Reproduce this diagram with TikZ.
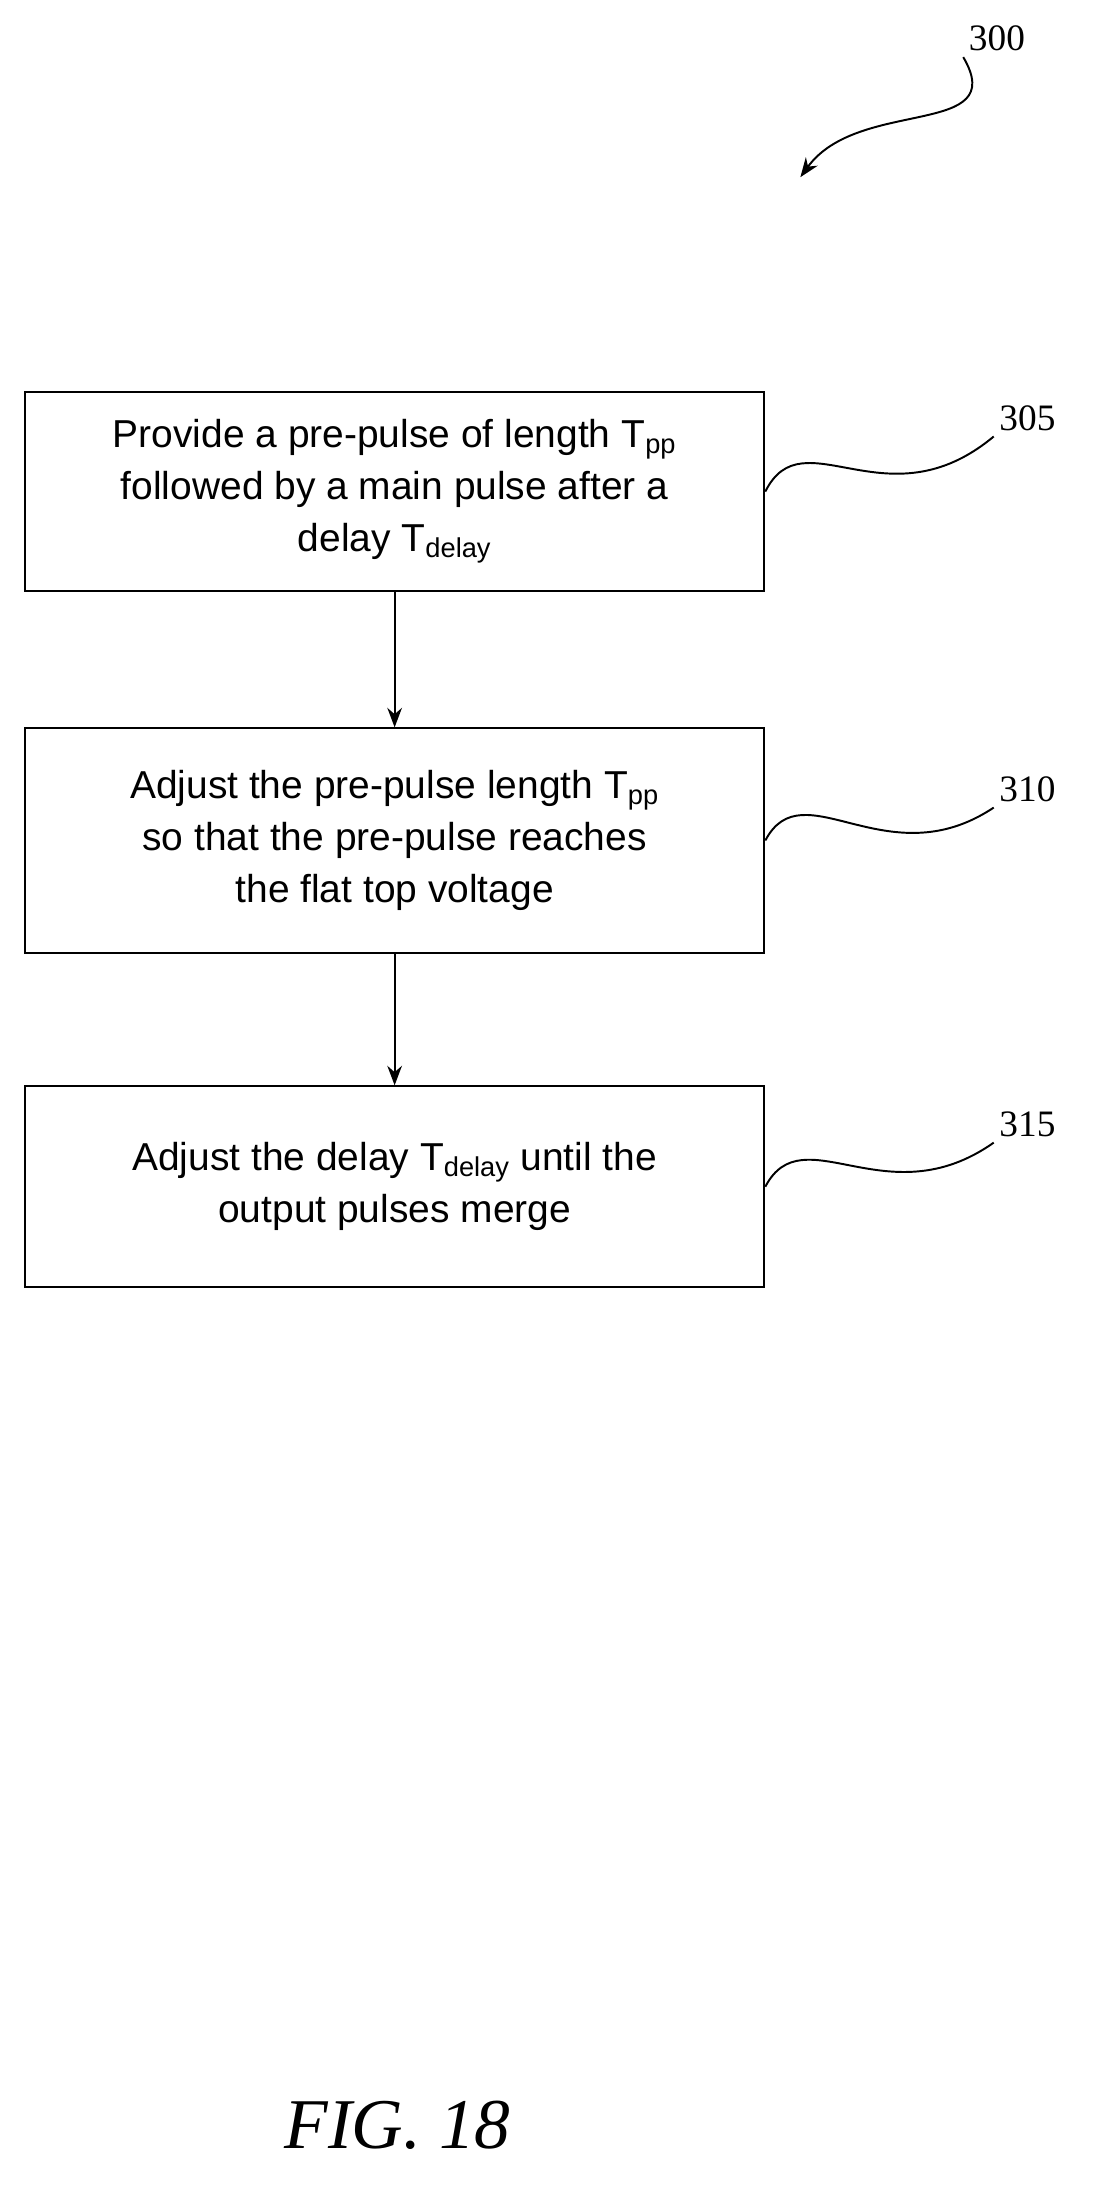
\documentclass[tikz,border=0pt]{standalone}
\usepackage{fontspec}
\setmainfont{Liberation Sans}
\newfontfamily\labelfont{Liberation Serif}
\usetikzlibrary{positioning,arrows.meta}
\begin{document}
\begin{tikzpicture}
[x=0.03cm,y=-0.03cm,
 flowstep/.style={draw,line width=1.2pt,minimum width=16.02cm,align=center,
   font=\fontsize{24}{32}\selectfont,inner sep=0pt},
 ref/.style={font=\labelfont\fontsize{23}{24}\selectfont},
 flow/.style={-{Stealth[length=12pt,width=9pt]},line width=1.2pt},
 wave/.style={line width=1.2pt}]
\useasboundingbox (0,0) rectangle (790,1578);
\node[flowstep,minimum height=4.32cm](s305) at (285,355){Provide a pre-pulse of length T\textsubscript{pp}\\followed by a main pulse after a\\delay T\textsubscript{delay}};
\node[flowstep,minimum height=4.86cm](s310) at (285,607){Adjust the pre-pulse length T\textsubscript{pp}\\so that the pre-pulse reaches\\the flat top voltage};
\node[flowstep,minimum height=4.35cm](s315) at (285,857){Adjust the delay T\textsubscript{delay} until the\\output pulses merge};
\draw[flow] (s305) -- (s310);
\draw[flow] (s310) -- (s315);
\node[ref](l300) at (720,28){300};
\node[ref](l305) at (742,302){305};
\node[ref](l310) at (742,570){310};
\node[ref](l315) at (742,812){315};
\draw[flow] (l300.south west) .. controls (730,100) and (620,70) .. (578,128);
\draw[wave] (s305.east) .. controls (580,300) and (640,380) .. (l305.south west);
\draw[wave] (s310.east) .. controls (580,555) and (640,635) .. (l310.south west);
\draw[wave] (s315.east) .. controls (580,805) and (640,880) .. (l315.south west);
\node[font=\labelfont\itshape\fontsize{44}{48}\selectfont](fig) at (287,1535){FIG. 18};
\end{tikzpicture}
\end{document}
